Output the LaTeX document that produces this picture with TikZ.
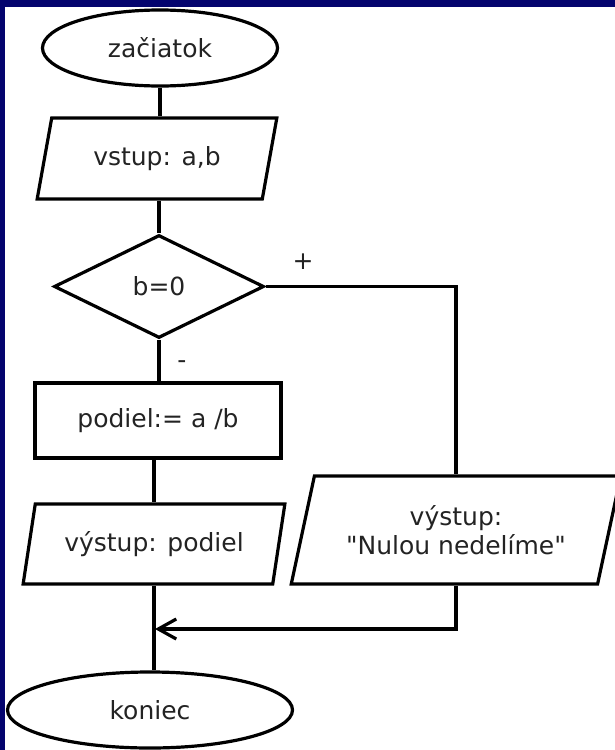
\documentclass[tikz,border=0pt]{standalone}
\usepackage{fontspec}
\setmainfont{DejaVu Sans}
\usetikzlibrary{shapes.geometric,arrows.meta}
\definecolor{navy}{RGB}{4,4,110}
\definecolor{ink}{RGB}{35,35,35}
\newcommand\straightquote{\XeTeXglyph\the\XeTeXcharglyph"22\relax}
\begin{document}
\begin{tikzpicture}[x=1pt,y=-1pt,
  every node/.style={font=\fontsize{25}{29}\selectfont, text=ink},
  shp/.style={draw=black, line width=3.2pt, inner sep=0pt},
  term/.style={shp, ellipse},
  io/.style={shp, trapezium, trapezium left angle=70, trapezium right angle=110, trapezium stretches=true},
  link/.style={draw=black, line width=3.2pt}
]
\fill[navy] (0,0) rectangle (615,750);
\fill[white] (5,7) rectangle (615,750);
\useasboundingbox (0,0) rectangle (615,750);

\node[term, minimum width=235pt, minimum height=76pt] (start) at (160,48) {začiatok};
\node[io, minimum width=240pt, minimum height=81pt] (in) at (157,158.5) {vstup: a,b};
\node[shp, diamond, minimum width=210pt, minimum height=103pt] (dec) at (159,286.5) {b=0};
\node[shp, rectangle, minimum width=246pt, minimum height=75pt] (proc) at (158,420.5) {podiel:= a /b};
\node[io, minimum width=262pt, minimum height=80pt] (out1) at (154,544) {výstup: podiel};
\node[io, minimum width=330pt, minimum height=108pt, align=center] (out2) at (456,530) {výstup:\\\straightquote Nulou nedelíme\straightquote};
\node[term, minimum width=285pt, minimum height=76pt] (end) at (150,710) {koniec};
\node (plus) at (303,262) {+};
\node (minus) at (182,365) {-};
\coordinate (join) at (155,629);

\draw[link] (start.south) -- (start.south |- in.north);
\draw[link] (dec.north |- in.south) -- (dec.north);
\draw[link] (dec.south) -- (dec.south |- proc.north);
\draw[link] (dec.east) -| (out2.north);
\draw[link] (out1.north |- proc.south) -- (out1.north);
\draw[link] (out1.south) -- (out1.south |- end.north);
\draw[link, -{Straight Barb[length=18pt,width=20pt]}] (out2.south) |- (join);
\end{tikzpicture}
\end{document}
